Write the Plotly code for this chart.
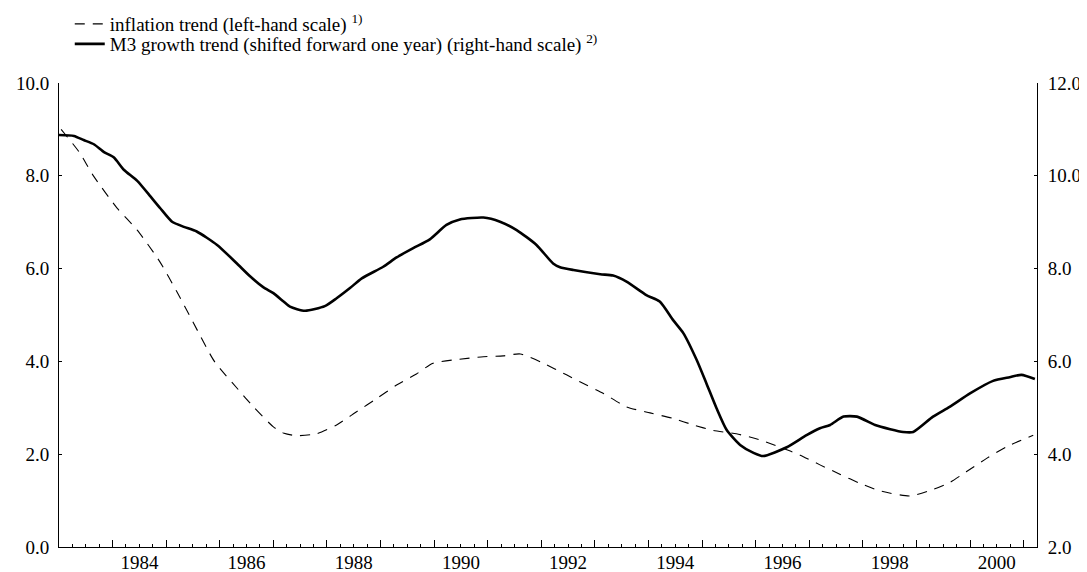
import plotly.graph_objects as go

# ---- data (decimal years) ----
# inflation trend, left-hand scale
infl_year = [1983.04, 1983.39, 1983.63, 1984.08, 1984.46, 1984.88, 1985.20, 1985.50,
             1985.90, 1986.34, 1986.62, 1987.00, 1987.20, 1987.43, 1987.81, 1988.18,
             1988.56, 1988.93, 1989.30, 1989.67, 1989.98, 1990.42, 1990.92, 1991.29,
             1991.61, 1992.04, 1992.47, 1992.72, 1993.16, 1993.59, 1994.03, 1994.46,
             1994.84, 1995.21, 1995.64, 1996.08, 1996.46, 1996.83, 1997.20, 1997.57,
             1997.95, 1998.32, 1998.88, 1999.31, 1999.62, 1999.93, 2000.31, 2000.68,
             2001.18]
infl_val = [9.00, 8.49, 8.02, 7.31, 6.83, 6.15, 5.50, 4.85,
            4.00, 3.40, 3.03, 2.59, 2.45, 2.40, 2.44, 2.63,
            2.92, 3.20, 3.49, 3.73, 3.96, 4.04, 4.10, 4.12,
            4.16, 3.96, 3.71, 3.56, 3.31, 3.02, 2.89, 2.77,
            2.63, 2.51, 2.44, 2.31, 2.15, 1.98, 1.77, 1.57,
            1.37, 1.21, 1.10, 1.24, 1.39, 1.62, 1.91, 2.16,
            2.41]

# M3 growth trend shifted forward one year, right-hand scale
m3_year = [1983.00, 1983.28, 1983.46, 1983.65, 1983.84, 1984.02, 1984.21, 1984.46,
           1984.71, 1984.89, 1985.11, 1985.33, 1985.57, 1985.95, 1986.32, 1986.56,
           1986.81, 1987.00, 1987.19, 1987.31, 1987.59, 1987.96, 1988.18, 1988.43,
           1988.65, 1989.05, 1989.30, 1989.61, 1989.92, 1990.23, 1990.48, 1990.92,
           1991.23, 1991.54, 1991.91, 1992.22, 1992.35, 1992.60, 1993.10, 1993.34,
           1993.59, 1993.96, 1994.21, 1994.46, 1994.65, 1994.90, 1995.08, 1995.27,
           1995.46, 1995.71, 1995.96, 1996.14, 1996.58, 1996.95, 1997.20, 1997.39,
           1997.64, 1997.89, 1998.23, 1998.51, 1998.75, 1998.94, 1999.31, 1999.62,
           2000.00, 2000.43, 2000.74, 2000.96, 2001.21]
m3_val = [10.88, 10.86, 10.77, 10.68, 10.51, 10.40, 10.13, 9.89,
          9.55, 9.30, 9.01, 8.90, 8.80, 8.51, 8.11, 7.84,
          7.60, 7.47, 7.29, 7.18, 7.09, 7.19, 7.36, 7.58,
          7.79, 8.04, 8.24, 8.44, 8.63, 8.94, 9.06, 9.10,
          9.01, 8.83, 8.51, 8.11, 8.03, 7.97, 7.88, 7.85,
          7.72, 7.43, 7.29, 6.89, 6.61, 6.03, 5.53, 4.99,
          4.52, 4.20, 4.03, 3.96, 4.15, 4.41, 4.56, 4.63,
          4.81, 4.81, 4.63, 4.54, 4.48, 4.48, 4.81, 5.02,
          5.31, 5.58, 5.66, 5.71, 5.62]

label_years = [1984, 1986, 1988, 1990, 1992, 1994, 1996, 1998, 2000]

FONT = "Liberation Serif, Times New Roman, serif"
X_RANGE = [1983, 2001.25]

fig = go.Figure()
fig.add_trace(go.Scatter(
    x=infl_year, y=infl_val, mode="lines",
    name="inflation trend (left-hand scale) <sup>1)</sup>",
    line=dict(color="black", width=1.1, dash="10px,8px", shape="spline", smoothing=0.6),
    xaxis="x", yaxis="y", legend="legend",
))
# M3 sits on the overlay subplot x2/y2 (x2 shares the x range and carries the year labels)
fig.add_trace(go.Scatter(
    x=m3_year, y=m3_val, mode="lines",
    name="M3 growth trend (shifted forward one year) (right-hand scale) <sup>2)</sup>",
    line=dict(color="black", width=2.6, shape="spline", smoothing=0.6),
    xaxis="x2", yaxis="y2", legend="legend2",
))

# the page body adds an 8px offset, so the figure is 8px smaller than the window
fig.update_layout(
    width=1079, height=564,
    margin=dict(l=51, r=50, t=75, b=25, autoexpand=False),
    paper_bgcolor="white", plot_bgcolor="white",
    font=dict(family=FONT, size=19, color="black"),
    # year ticks on the axis line, quarters as minor ticks
    xaxis=dict(
        range=X_RANGE, tickmode="linear", tick0=1983, dtick=1,
        ticks="inside", ticklen=7, tickcolor="black", tickwidth=1,
        showticklabels=False, showgrid=False, zeroline=False,
        showline=True, linecolor="black", linewidth=1,
        minor=dict(dtick=0.25, tick0=1983, ticks="inside", ticklen=3,
                   tickcolor="black", showgrid=False),
    ),
    # year labels centred inside each year
    xaxis2=dict(
        range=X_RANGE, overlaying="x", anchor="y2", side="bottom",
        tickmode="array", tickvals=[y + 0.5 for y in label_years],
        ticktext=[str(y) for y in label_years],
        ticks="", showline=False, showgrid=False, zeroline=False,
        ticklabelstandoff=2,
    ),
    yaxis=dict(
        range=[0, 10], dtick=2, tickformat=".1f",
        ticks="inside", ticklen=3, tickcolor="black",
        showgrid=False, zeroline=False,
        showline=True, linecolor="black", linewidth=1,
        ticklabelstandoff=5,
    ),
    yaxis2=dict(
        range=[2, 12], dtick=2, tickformat=".1f", overlaying="y", side="right",
        anchor="x2", ticks="inside", ticklen=3, tickcolor="black",
        showgrid=False, zeroline=False,
        showline=True, linecolor="black", linewidth=1,
        ticklabelstandoff=6,
    ),
    legend=dict(x=0.011, y=1.127, xanchor="left", yanchor="middle",
                bgcolor="rgba(0,0,0,0)", font=dict(family=FONT, size=19)),
    legend2=dict(x=0.011, y=1.084, xanchor="left", yanchor="middle",
                 bgcolor="rgba(0,0,0,0)", font=dict(family=FONT, size=19)),
    showlegend=True,
)

fig.write_html("out.html")
